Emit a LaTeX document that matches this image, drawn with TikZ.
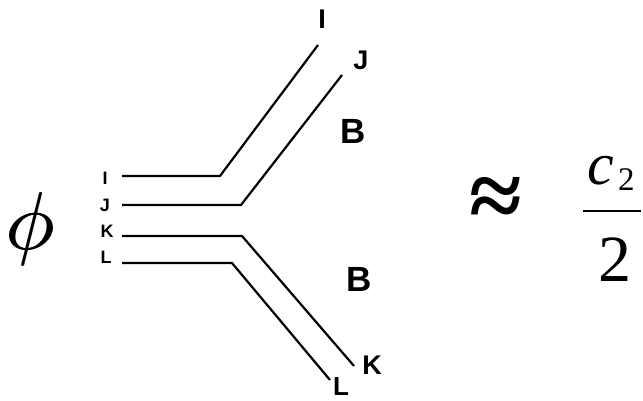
\documentclass[tikz,border=0pt]{standalone}
\usepackage{fontspec}
\setmainfont{Liberation Sans}
\newfontfamily\tms{Liberation Serif}
\begin{document}
\begin{tikzpicture}[x=1pt,y=-1pt,
  wire/.style={line width=2.2pt,line cap=butt,line join=miter},
  smalllab/.style={inner sep=0pt,font=\fontsize{18}{20}\bfseries\selectfont},
  biglab/.style={inner sep=0pt,font=\fontsize{27}{30}\bfseries\selectfont},
  blab/.style={inner sep=0pt,font=\fontsize{35}{40}\bfseries\selectfont},
  serif/.style={inner sep=0pt,font=\tms\fontsize{66}{70}\selectfont}]
\useasboundingbox (0,0) rectangle (643,401);
% wires
\coordinate (Ia) at (122,176); \coordinate (Ib) at (220,176); \coordinate (Ic) at (318,45);
\coordinate (Ja) at (122,205); \coordinate (Jb) at (241,205); \coordinate (Jc) at (342,75);
\coordinate (Ka) at (122,236); \coordinate (Kb) at (242,236); \coordinate (Kc) at (354,366);
\coordinate (La) at (122,263); \coordinate (Lb) at (232,263); \coordinate (Lc) at (330,380);
\draw[wire] (Ia) -- (Ib) -- (Ic);
\draw[wire] (Ja) -- (Jb) -- (Jc);
\draw[wire] (Ka) -- (Kb) -- (Kc);
\draw[wire] (La) -- (Lb) -- (Lc);
% left labels
\node[smalllab] (lI) at (105,178) {I};
\node[smalllab] (lJ) at (105,205) {J};
\node[smalllab] (lK) at (107,231) {K};
\node[smalllab] (lL) at (106,257) {L};
% right labels
\node[biglab] (rI) at (322,19) {I};
\node[biglab] (rJ) at (361,60) {J};
\node[biglab] (rK) at (372,365) {K};
\node[biglab,font=\fontsize{26}{28}\bfseries\selectfont] (rL) at (341,387) {L};
\node[blab] (B1) at (353,131) {B};
\node[blab] (B2) at (359,279) {B};
% math
\node[inner sep=0pt] (phi) at (30,229) {\rlap{\scalebox{8.2}{$\phi$}}\hspace{1pt}\scalebox{8.2}{$\phi$}};
\node[serif,font=\tms\fontsize{96}{100}\bfseries\selectfont] (approx) at (496,203) {≈};
\node[serif,anchor=base west,font=\tms\fontsize{60}{64}\itshape\selectfont] (c) at (587,185) {c};
\node[inner sep=0pt,anchor=base west,font=\tms\fontsize{33}{35}\selectfont] (sub) at (618,190) {2};
\node[serif] (two) at (615,260) {2};
\coordinate (barL) at (583,211); \coordinate (barR) at (641,211);
\draw[line width=2.6pt] (barL) -- (barR);
\end{tikzpicture}
\end{document}
